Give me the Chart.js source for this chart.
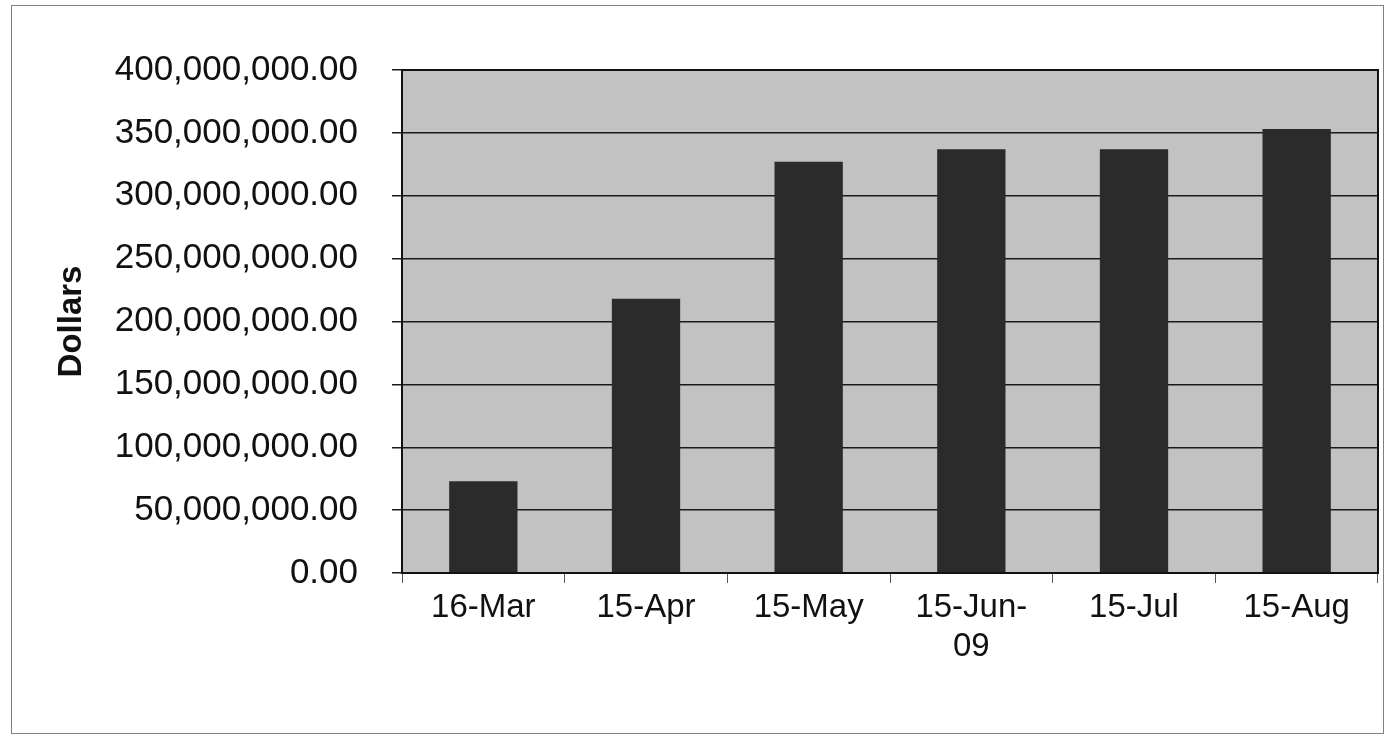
<!DOCTYPE html>
<html>
<head>
<meta charset="utf-8">
<script src="https://cdn.jsdelivr.net/npm/chart.js@4"></script>
<style>
  body { margin: 0; background: #fff; }
  #frame {
    position: absolute; left: 11px; top: 5px;
    width: 1371px; height: 727px;
    border: 1px solid #808080;
  }
  #wrap { position: absolute; left: 0; top: 0; width: 1386px; height: 736px; }
</style>
</head>
<body>
<div id="frame"></div>
<div id="wrap"><canvas id="dollarsChart" width="1386" height="736"></canvas></div>
<script>
const categories = ["16-Mar", "15-Apr", "15-May", ["15-Jun-", "09"], "15-Jul", "15-Aug"];
const dollars = [73000000, 218000000, 327000000, 337000000, 337000000, 353000000];
const yMin = 0;
const yMax = 400000000;
const yStep = 50000000;

const FONT = "'Liberation Sans', Arial, sans-serif";

const plotBox = {
  id: "plotBox",
  beforeDraw(chart) {
    const { ctx, chartArea: a } = chart;
    ctx.save();
    ctx.fillStyle = "#c2c2c2";
    ctx.fillRect(a.left, a.top, a.right - a.left, a.bottom - a.top);
    ctx.restore();
  },
  afterDraw(chart) {
    const { ctx, chartArea: a } = chart;
    ctx.save();
    ctx.strokeStyle = "#111";
    ctx.lineWidth = 2;
    ctx.strokeRect(a.left, a.top, a.right - a.left, a.bottom - a.top);
    ctx.restore();
  },
};

new Chart(document.getElementById("dollarsChart"), {
  type: "bar",
  data: {
    labels: categories,
    datasets: [
      {
        data: dollars,
        backgroundColor: "#2b2b2b",
        borderWidth: 0,
        categoryPercentage: 1,
        barPercentage: 0.42,
      },
    ],
  },
  options: {
    responsive: false,
    animation: false,
    layout: { padding: { top: 70, right: 8, left: 0, bottom: 0 } },
    plugins: { legend: { display: false }, tooltip: { enabled: false } },
    scales: {
      x: {
        afterFit: (s) => { s.height = 163; },
        grid: {
          offset: true,
          drawOnChartArea: false,
          color: "#555",
          tickLength: 10,
        },
        border: { color: "#111", width: 2 },
        ticks: {
          color: "#111",
          font: { family: FONT, size: 33 },
          padding: 5,
          maxRotation: 0,
          autoSkip: false,
        },
      },
      y: {
        min: yMin,
        max: yMax,
        afterFit: (s) => { s.width = 402; },
        grid: { color: "#1a1a1a", lineWidth: 1.5, tickLength: 10 },
        border: { color: "#111", width: 2 },
        ticks: {
          stepSize: yStep,
          color: "#111",
          padding: 34,
          font: { family: FONT, size: 35 },
          callback: (v) =>
            Number(v).toLocaleString("en-US", { minimumFractionDigits: 2, maximumFractionDigits: 2 }),
        },
        title: {
          display: true,
          text: "Dollars",
          color: "#111",
          font: { family: FONT, size: 33, weight: "bold" },
          padding: { top: 52, bottom: 0 },
        },
      },
    },
  },
  plugins: [plotBox],
});
</script>
</body>
</html>
